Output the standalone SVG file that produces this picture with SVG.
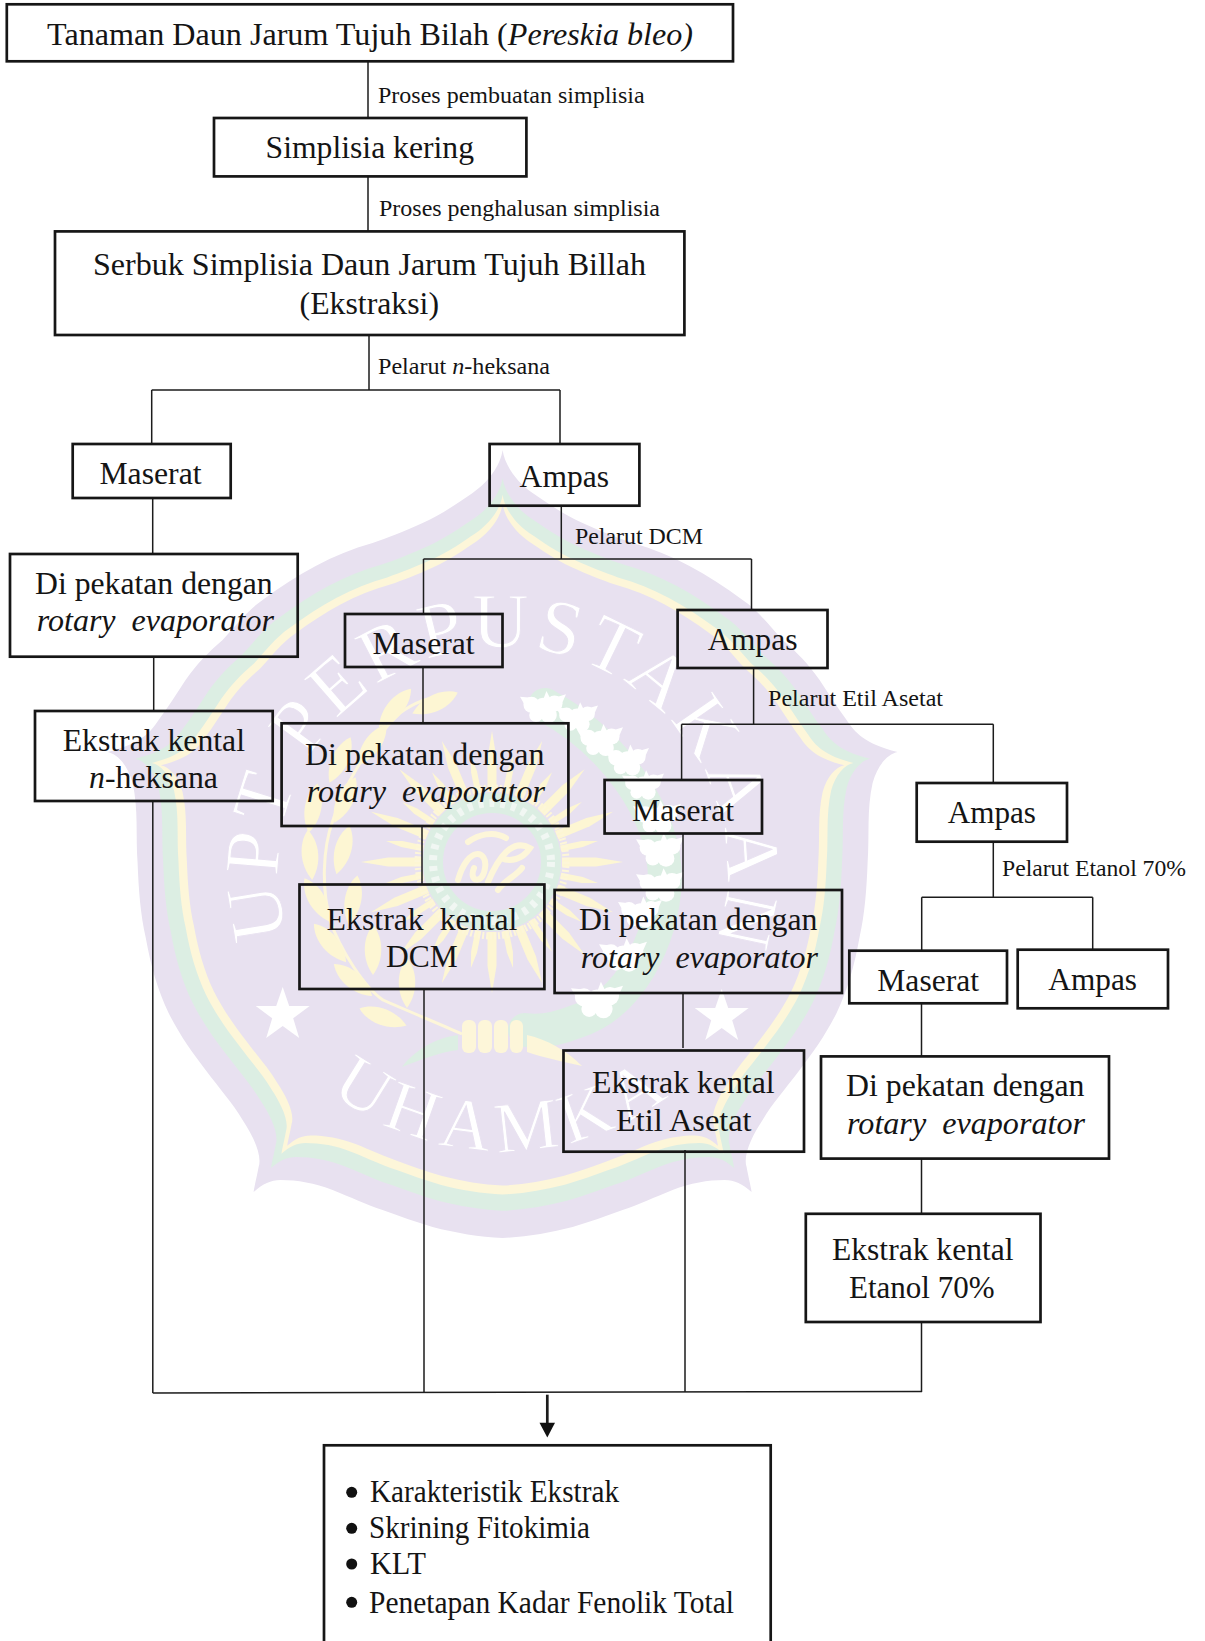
<svg xmlns="http://www.w3.org/2000/svg" width="1205" height="1641" viewBox="0 0 1205 1641">
<style>
text{font-family:"Liberation Serif","Times New Roman",serif;fill:#141414;white-space:pre}
.b{font-size:32px}
.s{font-size:24px}
.i{font-style:italic}
.box{fill:none;stroke:#161616;stroke-width:2.7}
.con{fill:none;stroke:#1c1c1c;stroke-width:1.5}
.ray{fill:#fdf6d3}
.leaf{fill:#fdf6d3}
.fl{fill:#fff}
.wm{fill:#fff;stroke:#e8e1f0;stroke-width:.9}
</style>
<defs>
<path id="shield" d="M0 -400C2 -385 14 -368 30 -357C45 -347 60 -336 80 -327C100 -318 115 -312 130 -307C170 -296 205 -276 240 -250C255 -240 268 -223 280 -210C295 -197 305 -187 317 -170C327 -155 335 -142 344 -130C352 -118 362 -106 395 -98C385 -96 375 -85 370 -67C364 -40 367 -15 365 13C364 40 362 65 357 87C352 115 345 140 334 163C323 185 310 203 297 220C282 240 270 253 260 270C250 285 240 305 244 317C246 328 248 335 249 342C240 334 232 330 222 330C205 330 188 333 170 340C152 347 136 355 120 360C103 366 87 372 70 377C47 383 23 387 0 388C-23 387 -47 383 -70 377C-87 372 -103 366 -120 360C-136 355 -152 347 -170 340C-188 333 -205 330 -222 330C-232 330 -240 334 -249 342C-248 335 -246 328 -244 317C-240 305 -250 285 -260 270C-270 253 -282 240 -297 220C-310 203 -323 185 -334 163C-345 140 -352 115 -357 87C-362 65 -364 40 -365 13C-367 -15 -364 -40 -370 -67C-375 -85 -385 -96 -395 -98C-362 -106 -352 -118 -344 -130C-335 -142 -327 -155 -317 -170C-305 -187 -295 -197 -280 -210C-268 -223 -255 -240 -240 -250C-205 -276 -170 -296 -130 -307C-115 -312 -100 -318 -80 -327C-60 -336 -45 -347 -30 -357C-14 -368 -2 -385 0 -400Z"/>
<path id="ray" d="M0 -131L4.500 -104L4.500 -70L-4.500 -70L-4.500 -104Z"/>
<path id="ray2" d="M0 -108L3 -92L3 -70L-3 -70L-3 -92Z"/>
<path id="star" d="M0 -28L6.500 -9L27 -9L10.500 3.300L16.500 23L0 11L-16.500 23L-10.500 3.300L-27 -9L-6.500 -9Z"/>
<path id="arcTop" d="M288.300 936.500A224 224 0 1 1 716.700 936.500"/>
<path id="arcBot" d="M330.100 1091.600A280 280 0 0 0 674.900 1091.600"/>
<path id="lf" d="M0 -25C11 -12 11 10 0 25C-11 10 -11 -12 0 -25Z"/>
<g id="jas"><circle cx="0" cy="0" r="8"/><circle cx="10" cy="-3" r="7"/><circle cx="-10" cy="-2" r="7"/><circle cx="5" cy="7" r="7"/><circle cx="-6" cy="7" r="6"/><path d="M-16 -2L-20 -9L-10 -8ZM16 -2L20 -11L10 -8ZM0 -6L3 -14L7 -6Z"/></g>
</defs>
<g id="watermark">
<use href="#shield" fill="#e8e1f0" transform="translate(502.6 850)"/>
<use href="#shield" fill="#dceee3" transform="translate(502.6 850) scale(.93)"/>
<use href="#shield" fill="#fdf6d9" transform="translate(502.6 850) scale(.888)"/>
<use href="#shield" fill="#e8e1f0" transform="translate(502.6 850) scale(.865)"/>
<g transform="translate(492 862)" class="ray">
<use href="#ray"/><use href="#ray" transform="rotate(22.500)"/><use href="#ray" transform="rotate(45)"/><use href="#ray" transform="rotate(67.500)"/><use href="#ray" transform="rotate(90)"/><use href="#ray" transform="rotate(112.500)"/><use href="#ray" transform="rotate(135)"/><use href="#ray" transform="rotate(157.500)"/><use href="#ray" transform="rotate(180)"/><use href="#ray" transform="rotate(202.500)"/><use href="#ray" transform="rotate(225)"/><use href="#ray" transform="rotate(247.500)"/><use href="#ray" transform="rotate(270)"/><use href="#ray" transform="rotate(292.500)"/><use href="#ray" transform="rotate(315)"/><use href="#ray" transform="rotate(337.500)"/>
<use href="#ray2" transform="rotate(11.250)"/><use href="#ray2" transform="rotate(33.750)"/><use href="#ray2" transform="rotate(56.250)"/><use href="#ray2" transform="rotate(78.750)"/><use href="#ray2" transform="rotate(101.250)"/><use href="#ray2" transform="rotate(123.750)"/><use href="#ray2" transform="rotate(146.250)"/><use href="#ray2" transform="rotate(168.750)"/><use href="#ray2" transform="rotate(191.250)"/><use href="#ray2" transform="rotate(213.750)"/><use href="#ray2" transform="rotate(236.250)"/><use href="#ray2" transform="rotate(258.750)"/><use href="#ray2" transform="rotate(281.250)"/><use href="#ray2" transform="rotate(303.750)"/><use href="#ray2" transform="rotate(326.250)"/><use href="#ray2" transform="rotate(348.750)"/>
</g>
<circle cx="492" cy="862" r="74" fill="none" stroke="#fdf6d9" stroke-width="7" stroke-dasharray="2 2"/>
<circle cx="492" cy="862" r="59" fill="#e8e1f0" stroke="#dceee3" stroke-width="20"/>
<circle cx="492" cy="862" r="59" fill="none" stroke="#f1f7f3" stroke-width="8" stroke-dasharray="5 6"/>
<path d="M458 880C468 845 488 850 485 868C483 885 468 882 474 868M488 882C498 858 512 838 530 848C522 860 510 862 501 858M468 842C478 835 493 830 506 838M498 890C505 880 516 876 522 868" fill="none" stroke="#fdf6d9" stroke-width="6" stroke-linecap="round"/>
<path d="M462 1034C440 1024 410 1012 383 1000C365 988 340 950 330 920C322 890 322 850 333 820C342 790 367 745 400 713C415 702 430 697 443 697" fill="none" stroke="#fdf6d9" stroke-width="3"/>
<g class="leaf">
<use href="#lf" transform="translate(310 855) rotate(-5)"/>
<use href="#lf" transform="translate(343 850) rotate(15)"/>
<use href="#lf" transform="translate(317 900) rotate(-30)"/>
<use href="#lf" transform="translate(353 900) rotate(10)"/>
<use href="#lf" transform="translate(330 943) rotate(-40)"/>
<use href="#lf" transform="translate(373 950) rotate(0)"/>
<use href="#lf" transform="translate(353 980) rotate(-50)"/>
<use href="#lf" transform="translate(407 983) rotate(0)"/>
<use href="#lf" transform="translate(383 1017) rotate(-70)"/>
<use href="#lf" transform="translate(313 808) rotate(10)"/>
<use href="#lf" transform="translate(345 800) rotate(25)"/>
<use href="#lf" transform="translate(340 760) rotate(25)"/>
<use href="#lf" transform="translate(372 745) rotate(35)"/>
<use href="#lf" transform="translate(395 708) rotate(40)"/>
<use href="#lf" transform="translate(435 703) rotate(65)"/>
</g>
<path d="M545 705C610 740 665 810 665 880C662 940 630 1005 575 1022C555 1030 540 1032 525 1030" fill="none" stroke="#dceee3" stroke-width="34" stroke-linecap="round"/>
<g class="fl">
<use href="#jas" transform="translate(543 707) scale(1.15)"/>
<use href="#jas" transform="translate(577 717) scale(1.05)"/>
<use href="#jas" transform="translate(600 740) scale(1.15)"/>
<use href="#jas" transform="translate(627 760) scale(1.1)"/>
<use href="#jas" transform="translate(643 785) scale(1.05)"/>
<use href="#jas" transform="translate(657 817) scale(1.2)"/>
<use href="#jas" transform="translate(660 850) scale(1.2)"/>
<use href="#jas" transform="translate(660 885) scale(1.2)"/>
<use href="#jas" transform="translate(640 912) scale(1.1)"/>
<use href="#jas" transform="translate(623 955) scale(1.2)"/>
<use href="#jas" transform="translate(597 1000) scale(1.3)"/>
</g>
<g fill="#fdf6d9">
<rect x="462" y="1020" width="14" height="33" rx="6"/><rect x="478" y="1020" width="14" height="33" rx="6"/><rect x="494" y="1020" width="14" height="33" rx="6"/><rect x="510" y="1020" width="13" height="33" rx="6"/>
<path d="M527 1035C548 1040 566 1050 582 1066C565 1062 545 1058 527 1052Z"/>
</g>
<path d="M458 1035C435 1038 415 1050 402 1067C420 1060 440 1052 458 1050Z" fill="#dceee3"/>
<use href="#star" class="fl" transform="translate(282.700 1015)"/>
<use href="#star" class="fl" transform="translate(721.700 1017)"/>
<text font-size="78" letter-spacing="4.500" class="wm" style="fill:#fff"><textPath href="#arcTop">UPT PERPUSTAKAAN</textPath></text>
<text font-size="72" letter-spacing="8" class="wm" style="fill:#fff"><textPath href="#arcBot">UHAMKA</textPath></text>
</g>
<g id="connectors" class="con">
<path d="M368 61V118M368 176V231M369 335V390M151.700 390H560M151.700 390V444M560 390V444"/>
<path d="M152.700 498V554M153.700 657V711M152.800 801V1393M152.800 1393L922 1391.500"/>
<path d="M561.300 506V559M423.500 559H751.500M423.500 559V614M751.500 559V610M423 667V723M422 826V884M424 989V1392"/>
<path d="M753.600 668V724.300M681.600 724.300H993.300M681.600 724.300V780M993.300 724.300V782M683 833.500V890M683 993V1048M685 1150V1392"/>
<path d="M993.300 842V897.300M921.700 897.300H1092.700M921.700 897.300V950.700M1092.700 897.300V949.700M921.500 1003V1056M921.500 1158.600V1214M921.500 1322V1392"/>
<path d="M547.300 1394.700V1425" stroke-width="2.700"/>
<path d="M539.500 1422.700H555L547.300 1437.500Z" fill="#111" stroke="none"/>
</g>
<g id="n1"><rect class="box" x="6.800" y="4.300" width="726.200" height="57"/><text class="b" x="47" y="44.600" textLength="646" lengthAdjust="spacingAndGlyphs">Tanaman Daun Jarum Tujuh Bilah (<tspan class="i">Pereskia bleo)</tspan></text></g>
<g id="l1"><text class="s" x="378" y="102.900" textLength="266.700" lengthAdjust="spacingAndGlyphs">Proses pembuatan simplisia</text></g>
<g id="n2"><rect class="box" x="214" y="118" width="312.400" height="58.400"/><text class="b" x="265.600" y="158" textLength="208.400" lengthAdjust="spacingAndGlyphs">Simplisia kering</text></g>
<g id="l2"><text class="s" x="379" y="216" textLength="281" lengthAdjust="spacingAndGlyphs">Proses penghalusan simplisia</text></g>
<g id="n3"><rect class="box" x="55" y="231.400" width="629.400" height="103.600"/><text class="b" x="93" y="275" textLength="553" lengthAdjust="spacingAndGlyphs">Serbuk Simplisia Daun Jarum Tujuh Billah</text><text class="b" x="299.600" y="314" textLength="139.400" lengthAdjust="spacingAndGlyphs">(Ekstraksi)</text></g>
<g id="l3"><text class="s" x="378" y="373.600" textLength="172" lengthAdjust="spacingAndGlyphs">Pelarut <tspan class="i">n</tspan>-heksana</text></g>
<g id="n4"><rect class="box" x="72.700" y="444" width="158" height="54"/><text class="b" x="99.400" y="484" textLength="102.200" lengthAdjust="spacingAndGlyphs">Maserat</text></g>
<g id="n5"><rect class="box" x="489.600" y="444" width="149.800" height="61.700"/><text class="b" x="519.600" y="487.400" textLength="89.400" lengthAdjust="spacingAndGlyphs">Ampas</text></g>
<g id="l4"><text class="s" x="575" y="543.600" textLength="128" lengthAdjust="spacingAndGlyphs">Pelarut DCM</text></g>
<g id="n6"><rect class="box" x="10" y="554" width="287.700" height="102.700"/><text class="b" x="35" y="594" textLength="237.700" lengthAdjust="spacingAndGlyphs">Di pekatan dengan</text><text class="b i" x="36.700" y="631" textLength="237.300" lengthAdjust="spacingAndGlyphs">rotary  evaporator</text></g>
<g id="n7"><rect class="box" x="35" y="711" width="237.700" height="90"/><text class="b" x="62.700" y="750.700" textLength="182.300" lengthAdjust="spacingAndGlyphs">Ekstrak kental</text><text class="b" x="89" y="788" textLength="129" lengthAdjust="spacingAndGlyphs"><tspan class="i">n</tspan>-heksana</text></g>
<g id="n8"><rect class="box" x="345" y="614" width="157.500" height="53"/><text class="b" x="372.600" y="654" textLength="102" lengthAdjust="spacingAndGlyphs">Maserat</text></g>
<g id="n9"><rect class="box" x="677.600" y="610" width="149.900" height="58"/><text class="b" x="707.800" y="650" textLength="89.800" lengthAdjust="spacingAndGlyphs">Ampas</text></g>
<g id="l5"><text class="s" x="768" y="706" textLength="175" lengthAdjust="spacingAndGlyphs">Pelarut Etil Asetat</text></g>
<g id="n10"><rect class="box" x="281.600" y="723.300" width="286.800" height="102.700"/><text class="b" x="305" y="765" textLength="239.500" lengthAdjust="spacingAndGlyphs">Di pekatan dengan</text><text class="b i" x="306.700" y="802" textLength="238.300" lengthAdjust="spacingAndGlyphs">rotary  evaporator</text></g>
<g id="n11"><rect class="box" x="299.500" y="884.500" width="244.900" height="104.500"/><text class="b" x="326.600" y="930" textLength="190.800" lengthAdjust="spacingAndGlyphs">Ekstrak  kental</text><text class="b" x="386" y="967" textLength="71.800" lengthAdjust="spacingAndGlyphs">DCM</text></g>
<g id="n12"><rect class="box" x="604.600" y="780" width="157.400" height="53.500"/><text class="b" x="632" y="821" textLength="102" lengthAdjust="spacingAndGlyphs">Maserat</text></g>
<g id="n13"><rect class="box" x="916.700" y="783" width="150.300" height="58.700"/><text class="b" x="947.700" y="822.700" textLength="88.300" lengthAdjust="spacingAndGlyphs">Ampas</text></g>
<g id="l6"><text class="s" x="1002" y="875.700" textLength="184" lengthAdjust="spacingAndGlyphs">Pelarut Etanol 70%</text></g>
<g id="n14"><rect class="box" x="554.600" y="890" width="287.400" height="103"/><text class="b" x="579" y="930" textLength="238.500" lengthAdjust="spacingAndGlyphs">Di pekatan dengan</text><text class="b i" x="580.700" y="968" textLength="237.300" lengthAdjust="spacingAndGlyphs">rotary  evaporator</text></g>
<g id="n15"><rect class="box" x="849.300" y="950.700" width="157.700" height="52.600"/><text class="b" x="877.300" y="991" textLength="101.700" lengthAdjust="spacingAndGlyphs">Maserat</text></g>
<g id="n16"><rect class="box" x="1017.700" y="949.700" width="150.300" height="58.600"/><text class="b" x="1048.300" y="990" textLength="88.700" lengthAdjust="spacingAndGlyphs">Ampas</text></g>
<g id="n17"><rect class="box" x="563.500" y="1050.500" width="240.500" height="101.200"/><text class="b" x="592" y="1093" textLength="182.600" lengthAdjust="spacingAndGlyphs">Ekstrak kental</text><text class="b" x="616" y="1131" textLength="135.600" lengthAdjust="spacingAndGlyphs">Etil Asetat</text></g>
<g id="n18"><rect class="box" x="821" y="1056.400" width="288" height="102.200"/><text class="b" x="846" y="1096" textLength="238.500" lengthAdjust="spacingAndGlyphs">Di pekatan dengan</text><text class="b i" x="847" y="1134" textLength="238" lengthAdjust="spacingAndGlyphs">rotary  evaporator</text></g>
<g id="n19"><rect class="box" x="805.800" y="1213.800" width="234.700" height="108.200"/><text class="b" x="832" y="1260" textLength="181.500" lengthAdjust="spacingAndGlyphs">Ekstrak kental</text><text class="b" x="849" y="1297.600" textLength="145.600" lengthAdjust="spacingAndGlyphs">Etanol 70%</text></g>
<g id="n20"><rect class="box" x="324" y="1445.300" width="446.700" height="210"/>
<circle cx="351.700" cy="1492.300" r="5.500" fill="#111"/><circle cx="351.700" cy="1528.300" r="5.500" fill="#111"/><circle cx="351.700" cy="1564" r="5.500" fill="#111"/><circle cx="351.700" cy="1602.300" r="5.500" fill="#111"/>
<text class="b" x="370" y="1502" textLength="249" lengthAdjust="spacingAndGlyphs">Karakteristik Ekstrak</text><text class="b" x="369" y="1538" textLength="221" lengthAdjust="spacingAndGlyphs">Skrining Fitokimia</text><text class="b" x="370" y="1574" textLength="56" lengthAdjust="spacingAndGlyphs">KLT</text><text class="b" x="369" y="1612.500" textLength="365" lengthAdjust="spacingAndGlyphs">Penetapan Kadar Fenolik Total</text></g>
</svg>
